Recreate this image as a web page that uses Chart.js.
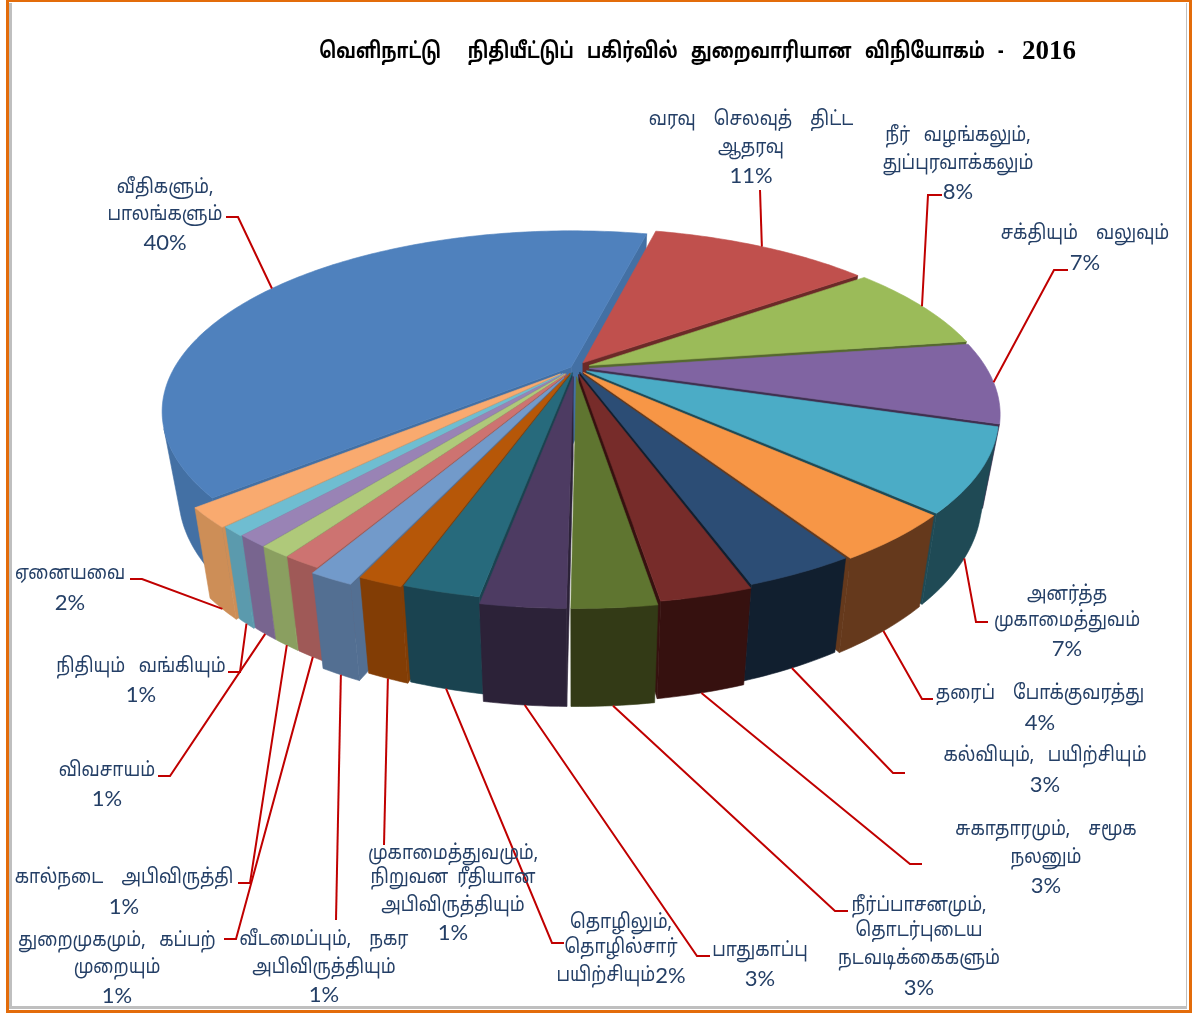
<!DOCTYPE html>
<html>
<head>
<meta charset="utf-8">
<title>வெளிநாட்டு நிதியீட்டுப் பகிர்வில் துறைவாரியான விநியோகம் - 2016</title>
<script src="https://cdn.jsdelivr.net/npm/chart.js@4"></script>
<style>
  html, body { margin: 0; padding: 0; background: #fff; }
  canvas { display: block; }
</style>
</head>
<body>
<canvas id="sectorChart" width="1192" height="1015"></canvas>
<script>
const categories = [
  ['வரவு    செலவுத்    திட்ட', 'ஆதரவு'],
  ['நீர்   வழங்கலும்,', 'துப்புரவாக்கலும்'],
  ['சக்தியும்    வலுவும்'],
  ['அனர்த்த', 'முகாமைத்துவம்'],
  ['தரைப்    போக்குவரத்து'],
  ['கல்வியும்,   பயிற்சியும்'],
  ['சுகாதாரமும்,    சமூக', 'நலனும்'],
  ['நீர்ப்பாசனமும்,', 'தொடர்புடைய', 'நடவடிக்கைகளும்'],
  ['பாதுகாப்பு'],
  ['தொழிலும்,', 'தொழில்சார்', 'பயிற்சியும்'],
  ['முகாமைத்துவமும்,', 'நிறுவன  ரீதியான', 'அபிவிருத்தியும்'],
  ['வீடமைப்பும்,    நகர', 'அபிவிருத்தியும்'],
  ['துறைமுகமும்,   கப்பற்', 'முறையும்'],
  ['கால்நடை    அபிவிருத்தி'],
  ['விவசாயம்'],
  ['நிதியும்   வங்கியும்'],
  ['ஏனையவை'],
  ['வீதிகளும்,', 'பாலங்களும்']
];
const shares = [11.0, 7.8, 7.2, 7.2, 4.1, 3.45, 2.85, 2.6, 2.6, 2.4, 1.4, 1.4, 1.2, 1.0, 1.0, 0.8, 1.7, 39.8];
const topColors = ['#C0504D', '#9BBB59', '#8064A2', '#4BACC6', '#F79646', '#2C4D75', '#772C2A', '#5F7530', '#4D3B62',
  '#276A7C', '#B65708', '#729ACA', '#CD7371', '#AFC97A', '#9983B5', '#6FBDD1', '#F9AA6F', '#4F81BD'];
const sideColors = ['#6B2A28', '#55682F', '#3F3050', '#1F4A55', '#65391C', '#111F2F', '#36110F', '#333A16', '#2C2238',
  '#1A4350', '#823D05', '#536F92', '#9F5957', '#8A9F60', '#78658F', '#5B9AAD', '#CD8E57', '#4370A4'];
const explode = [13, 14, 13, 12, 12, 10, 14, 18, 18, 10, 12, 22, 15, 15, 15, 16, 18, 4];
const chartTitle = 'வெளிநாட்டு      நிதியீட்டுப்   பகிர்வில்   துறைவாரியான   விநியோகம்   -   ';
const titleYear = '2016';

// label block centre, line middles and leader bend/end, same order as categories
const labelLayout = [
  { x: 751, y: [119, 147, 175], lead: [[760, 190]] },
  { x: 958, y: [135, 163, 191], lead: [[928, 195], [942, 195]] },
  { x: 1085, y: [233, 262], lead: [[1054, 270], [1068, 270]] },
  { x: 1067, y: [594, 620, 648], lead: [[976, 622], [988, 622]] },
  { x: 1040, y: [693, 722], lead: [[922, 699], [933, 699]] },
  { x: 1045, y: [755, 784], lead: [[893, 773], [905, 773]] },
  { x: 1046, y: [829, 857, 885], lead: [[910, 864], [922, 864]] },
  { x: 919, y: [905, 930, 958, 987], lead: [[835, 911], [848, 911]] },
  { x: 760, y: [950, 978], lead: [[697, 956], [710, 956]] },
  { x: 621, y: [922, 947, 975], inline: true, lead: [[552, 943], [564, 943]] },
  { x: 453, y: [853, 877, 905, 932], lead: [[384, 845]] },
  { x: 324, y: [939, 967, 994], lead: [[336, 920]] },
  { x: 117, y: [940, 967, 995], lead: [[236, 939], [224, 939]] },
  { x: 124, y: [877, 906], lead: [[250, 883], [238, 883]] },
  { x: 107, y: [770, 798], lead: [[170, 776], [158, 776]] },
  { x: 141, y: [666, 694], lead: [[240, 672], [228, 672]] },
  { x: 70, y: [573, 602], lead: [[142, 579], [130, 579]] },
  { x: 165, y: [187, 214, 242], lead: [[238, 217], [226, 217]] }
];

const TAMIL_FONT = '"Noto Sans Tamil", "Noto Sans", "Lohit Tamil", "Latha", sans-serif';
const LABEL_COLOR = '#243F66';
const LEADER_COLOR = '#C00000';
const LABEL_SQUEEZE = 0.87, TITLE_SQUEEZE = 0.78;

// perspective tilt of the pie plane
const RX = 397, RY = 170, TILT = 0.245, WALL = 80, WALL_SHRINK = 0.96;

function project(el, r, angle, low) {
  const half = (el.startAngle + el.endAngle) / 2;
  const off = el.options.offset / el.outerRadius;
  const u = r * Math.cos(angle) + off * Math.cos(half);
  const v = r * Math.sin(angle) + off * Math.sin(half);
  const w = 1 - TILT * v;
  if (low) {
    return [el.x + RX * u * WALL_SHRINK / w, el.y + (RY * v * WALL_SHRINK + WALL) / w];
  }
  return [el.x + RX * u / w, el.y + RY * v / w];
}

function fillPoly(ctx, pts, color) {
  ctx.beginPath();
  pts.forEach((p, i) => (i ? ctx.lineTo(p[0], p[1]) : ctx.moveTo(p[0], p[1])));
  ctx.closePath();
  ctx.fillStyle = color;
  ctx.strokeStyle = color;
  ctx.lineWidth = 0.6;
  ctx.fill();
  ctx.stroke();
}

function signedArea(pts) {
  let a = 0;
  pts.forEach((p, i) => {
    const q = pts[(i + 1) % pts.length];
    a += p[0] * q[1] - q[0] * p[1];
  });
  return a;
}

function drawSlice(ctx, el, top, side) {
  const a0 = el.startAngle, a1 = el.endAngle;
  const steps = Math.max(6, Math.ceil((a1 - a0) * 60));
  const rim = [];
  for (let i = 0; i <= steps; i++) rim.push(a0 + (a1 - a0) * i / steps);

  const startWall = [project(el, 0, a0), project(el, 1, a0), project(el, 1, a0, true), project(el, 0, a0, true)];
  const endWall = [project(el, 1, a1), project(el, 0, a1), project(el, 0, a1, true), project(el, 1, a1, true)];
  if (signedArea(startWall) < 0) fillPoly(ctx, startWall, side);
  if (signedArea(endWall) < 0) fillPoly(ctx, endWall, side);

  // outer wall, only the part that faces the viewer
  let upper = [], lower = [];
  const flush = () => {
    if (upper.length > 1) fillPoly(ctx, upper.concat(lower.reverse()), side);
    upper = [];
    lower = [];
  };
  for (let i = 0; i < steps; i++) {
    const quad = [project(el, 1, rim[i]), project(el, 1, rim[i + 1]), project(el, 1, rim[i + 1], true), project(el, 1, rim[i], true)];
    if (signedArea(quad) < 0) {
      if (!upper.length) {
        upper.push(quad[0]);
        lower.push(quad[3]);
      }
      upper.push(quad[1]);
      lower.push(quad[2]);
    } else {
      flush();
    }
  }
  flush();

  fillPoly(ctx, [project(el, 0, a0)].concat(rim.map(a => project(el, 1, a))), top);
}

function squeezedText(ctx, text, x, y, squeeze) {
  ctx.save();
  ctx.translate(x, y);
  ctx.scale(squeeze, 1);
  ctx.fillText(text, 0, 0);
  ctx.restore();
}

function drawLabels(ctx, meta) {
  categories.forEach((lines, i) => {
    const lay = labelLayout[i];
    const el = meta.data[i];
    const pct = Math.round(shares[i]) + '%';
    const mid = (el.startAngle + el.endAngle) / 2;
    const near = Math.sin(mid) > 0.3;
    const from = project(el, 1, mid, near);

    ctx.beginPath();
    ctx.moveTo(from[0], from[1]);
    lay.lead.forEach(p => ctx.lineTo(p[0], p[1]));
    ctx.strokeStyle = LEADER_COLOR;
    ctx.lineWidth = 2;
    ctx.stroke();

    ctx.fillStyle = LABEL_COLOR;
    ctx.textBaseline = 'middle';
    ctx.textAlign = 'center';
    const tamil = '20px ' + TAMIL_FONT, num = '22px Lato';
    lines.forEach((t, n) => {
      ctx.font = tamil;
      if (lay.inline && n === lines.length - 1) {
        const w = ctx.measureText(t).width * LABEL_SQUEEZE;
        ctx.font = num;
        const pw = ctx.measureText(pct).width;
        ctx.textAlign = 'left';
        ctx.font = tamil;
        squeezedText(ctx, t, lay.x - (w + pw) / 2, lay.y[n] + 2, LABEL_SQUEEZE);
        ctx.font = num;
        ctx.fillText(pct, lay.x - (w + pw) / 2 + w, lay.y[n] + 1);
        ctx.textAlign = 'center';
      } else {
        squeezedText(ctx, t, lay.x, lay.y[n] + 2, LABEL_SQUEEZE);
      }
    });
    if (!lay.inline) {
      ctx.font = num;
      ctx.fillText(pct, lay.x, lay.y[lines.length] + 1);
    }
  });
}

const pie3d = {
  id: 'pie3d',
  beforeDraw(chart) {
    const ctx = chart.ctx;
    ctx.save();
    ctx.fillStyle = '#BFBFBF';
    ctx.fillRect(9, 3, 1178, 1006);
    ctx.fillStyle = '#FFFFFF';
    ctx.fillRect(12, 3, 1174, 1003);
    ctx.strokeStyle = '#E36C0A';
    ctx.lineWidth = 3;
    ctx.strokeRect(7.5, 0.5, 1183, 1011);
    ctx.restore();
  },
  beforeDatasetDraw(chart, args) {
    const ctx = chart.ctx;
    const meta = args.meta;
    const biggest = shares.indexOf(Math.max(...shares));
    const depth = el => Math.sin((el.startAngle + el.endAngle) / 2);
    const order = meta.data.map((el, i) => i)
      .filter(i => i !== biggest)
      .sort((a, b) => depth(meta.data[a]) - depth(meta.data[b]));
    ctx.save();
    [biggest].concat(order).forEach(i => drawSlice(ctx, meta.data[i], topColors[i], sideColors[i]));
    ctx.restore();
    return false;
  },
  afterDraw(chart) {
    const ctx = chart.ctx;
    ctx.save();
    drawLabels(ctx, chart.getDatasetMeta(0));

    ctx.fillStyle = '#000000';
    ctx.textBaseline = 'middle';
    ctx.textAlign = 'left';
    ctx.font = 'bold 22px ' + TAMIL_FONT;
    const w = ctx.measureText(chartTitle).width * TITLE_SQUEEZE;
    squeezedText(ctx, chartTitle, 1017 - w, 54, TITLE_SQUEEZE);
    ctx.font = 'bold 27px "Liberation Serif"';
    ctx.fillText(titleYear, 1022, 52);
    ctx.restore();
  }
};

const sectorChart = new Chart(document.getElementById('sectorChart').getContext('2d'), {
  type: 'pie',
  data: {
    labels: categories.map(c => c.join(' ')),
    datasets: [{
      data: shares,
      backgroundColor: topColors,
      offset: explode,
      borderWidth: 0
    }]
  },
  options: {
    responsive: false,
    animation: false,
    rotation: 13.5,
    layout: { padding: { right: 42, bottom: 279 } },
    plugins: { legend: { display: false }, tooltip: { enabled: false } }
  },
  plugins: [pie3d]
});
</script>
</body>
</html>
